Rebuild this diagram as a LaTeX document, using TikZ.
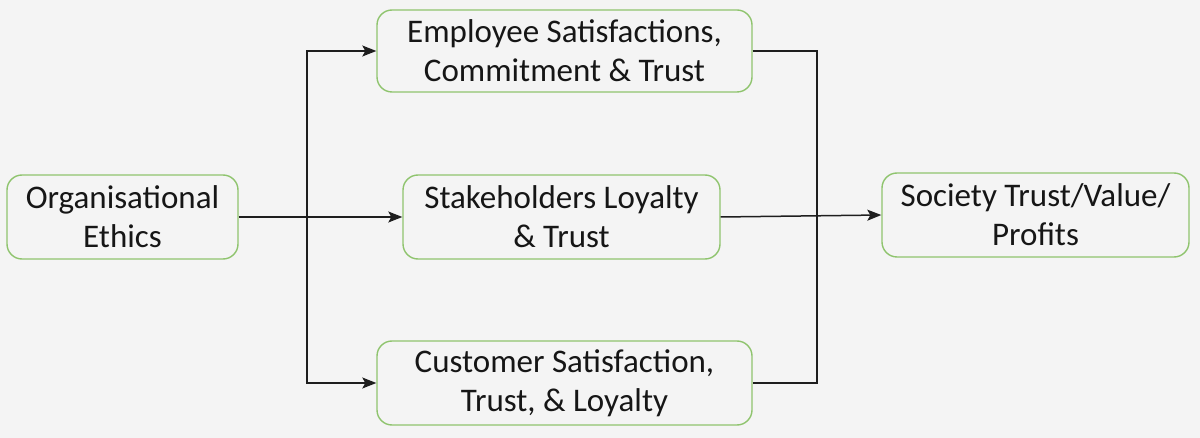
\documentclass[tikz,border=0pt]{standalone}
\usepackage{fontspec}
\setmainfont{Carlito}
\usetikzlibrary{arrows.meta}
\definecolor{bg}{HTML}{F4F4F4}
\definecolor{boxgreen}{HTML}{8FC46E}
\definecolor{txt}{HTML}{161616}
\definecolor{ln}{HTML}{1E1E1E}
\begin{document}
\begin{tikzpicture}[x=1pt,y=-1pt,
  box/.style={draw=boxgreen,line width=1.4pt,rounded corners=15pt,fill=bg,
    align=center,text=txt,inner sep=0pt,
    font=\fontsize{33}{39}\selectfont},
  conn/.style={draw=ln,line width=1.5pt},
  arr/.style={conn,-{Stealth[length=14pt,width=11pt,inset=3pt]}}]
\fill[bg] (0,0) rectangle (1200,438);
\useasboundingbox (0,0) rectangle (1200,438);
\node[box,minimum width=231pt,minimum height=84pt] (org) at (122.5,217) {Organisational\\Ethics};
\node[box,minimum width=375pt,minimum height=82pt] (emp) at (564.5,51) {Employee Satisfactions,\\Commitment \& Trust};
\node[box,minimum width=317pt,minimum height=84pt] (stk) at (561.5,217) {Stakeholders Loyalty\\\& Trust};
\node[box,minimum width=375pt,minimum height=84pt] (cus) at (564.5,383) {Customer Satisfaction,\\Trust, \& Loyalty};
\node[box,minimum width=307pt,minimum height=84pt] (soc) at (1035.5,215) {Society Trust/Value/\\Profits};
\coordinate (lb) at (307,217);
\coordinate (rb) at (817,216);
\draw[arr] (org.east) -- (stk.west);
\draw[arr] (lb) |- (emp.west);
\draw[arr] (lb) |- (cus.west);
\draw[conn] (emp.east) -| (rb) |- (cus.east);
\draw[arr] (stk.east) -- (soc.west);
\end{tikzpicture}
\end{document}
